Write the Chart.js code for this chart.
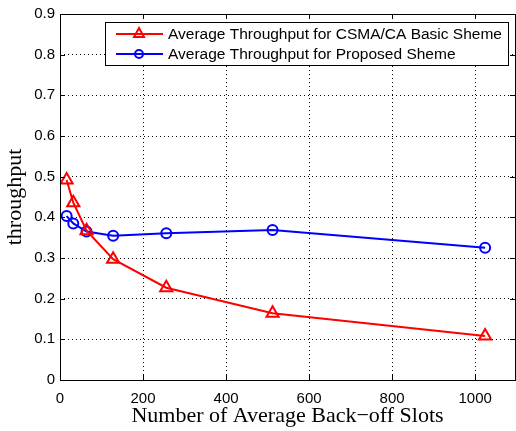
<!DOCTYPE html>
<html>
<head>
<meta charset="utf-8">
<script src="https://cdn.jsdelivr.net/npm/chart.js@4.4.1/dist/chart.umd.min.js"></script>
<style>
  html, body { margin: 0; padding: 0; background: #fff; overflow: hidden; }
  #wrap { width: 516px; height: 431px; position: relative; }
</style>
</head>
<body>
<div id="wrap"><canvas id="grafico"></canvas></div>
<script>
// dados
const slots = [16, 32, 64, 128, 256, 512, 1024];
const basicoCsma = [0.492, 0.436, 0.367, 0.297, 0.227, 0.164, 0.108];
const proposto = [0.403, 0.385, 0.365, 0.355, 0.361, 0.369, 0.325];
const xTicks = [0, 200, 400, 600, 800, 1000];
const yTicks = [0, 0.1, 0.2, 0.3, 0.4, 0.5, 0.6, 0.7, 0.8, 0.9];
const nomesSeries = ['Average Throughput for CSMA/CA Basic Sheme', 'Average Throughput for Proposed Sheme'];

const pontos = (ys) => slots.map((x, i) => ({ x: x, y: ys[i] }));
const fonteSans = '"Liberation Sans", Arial, sans-serif';
const fonteSerif = '"Liberation Serif", "Times New Roman", serif';

// moldura, ticks internos e legenda no estilo MATLAB
const molduraPlugin = {
    id: 'moldura',
    afterDraw(chart) {
        const { ctx, chartArea: a, scales } = chart;
        ctx.save();
        ctx.strokeStyle = '#000';
        ctx.lineWidth = 1;
        ctx.setLineDash([]);
        ctx.strokeRect(Math.round(a.left) + 0.5, Math.round(a.top) + 0.5,
            Math.round(a.right - a.left), Math.round(a.bottom - a.top));
        const len = 5;
        ctx.beginPath();
        xTicks.forEach(v => {
            const px = Math.round(scales.x.getPixelForValue(v)) + 0.5;
            ctx.moveTo(px, a.bottom); ctx.lineTo(px, a.bottom - len);
            ctx.moveTo(px, a.top); ctx.lineTo(px, a.top + len);
        });
        yTicks.forEach(v => {
            const py = Math.round(scales.y.getPixelForValue(v)) + 0.5;
            ctx.moveTo(a.left, py); ctx.lineTo(a.left + len, py);
            ctx.moveTo(a.right, py); ctx.lineTo(a.right - len, py);
        });
        ctx.stroke();

        // legenda
        const lx = 105, ly = 22, lw = 403, lh = 43;
        ctx.fillStyle = '#fff';
        ctx.fillRect(lx, ly, lw, lh);
        ctx.strokeRect(lx + 0.5, ly + 0.5, lw, lh);
        const cores = ['#ff0000', '#0000ff'];
        ctx.font = '15.5px ' + fonteSans;
        ctx.textBaseline = 'middle';
        nomesSeries.forEach((nome, i) => {
            const y = ly + 12 + i * 20;
            ctx.strokeStyle = cores[i];
            ctx.lineWidth = 2;
            ctx.beginPath();
            ctx.moveTo(lx + 11, y); ctx.lineTo(lx + 58, y);
            ctx.stroke();
            const cx = lx + 34;
            ctx.beginPath();
            if (i === 0) {
                ctx.moveTo(cx, y - 6); ctx.lineTo(cx + 5, y + 3); ctx.lineTo(cx - 5, y + 3); ctx.closePath();
            } else {
                ctx.arc(cx, y, 4, 0, Math.PI * 2);
            }
            ctx.stroke();
            ctx.fillStyle = '#000';
            ctx.fillText(nome, lx + 63, y + 1);
        });
        ctx.restore();
    }
};

new Chart(document.getElementById('grafico').getContext('2d'), {
    type: 'line',
    data: {
        datasets: [{
            label: nomesSeries[0],
            data: pontos(basicoCsma),
            borderColor: '#ff0000',
            backgroundColor: 'transparent',
            borderWidth: 2,
            pointStyle: 'triangle',
            pointRadius: 7,
            pointBorderWidth: 2,
            pointBackgroundColor: 'transparent',
            tension: 0
        }, {
            label: nomesSeries[1],
            data: pontos(proposto),
            borderColor: '#0000ff',
            backgroundColor: 'transparent',
            borderWidth: 2,
            pointStyle: 'circle',
            pointRadius: 5,
            pointBorderWidth: 2,
            pointBackgroundColor: 'transparent',
            tension: 0
        }]
    },
    options: {
        responsive: true,
        maintainAspectRatio: false,
        animation: false,
        layout: { autoPadding: false, padding: { top: 14, right: 1, left: 0, bottom: 0 } },
        plugins: {
            legend: { display: false },
            tooltip: { enabled: false }
        },
        scales: {
            x: {
                type: 'linear',
                min: 0,
                max: 1096,
                afterBuildTicks: (s) => { s.ticks = xTicks.map(v => ({ value: v })); },
                afterFit: (s) => { s.height = 51; s.paddingLeft = 0; s.paddingRight = 0; },
                ticks: {
                    color: '#000',
                    padding: 10,
                    font: { family: fonteSans, size: 15 },
                    maxRotation: 0,
                    callback: (v) => String(v)
                },
                grid: {
                    color: '#000',
                    lineWidth: 1,
                    drawTicks: false
                },
                border: { display: false, dash: [1, 3] },
                title: {
                    display: true,
                    text: 'Number of Average Back\u2212off Slots',
                    color: '#000',
                    padding: { top: 0, bottom: 2 },
                    font: { family: fonteSerif, size: 22 }
                }
            },
            y: {
                min: 0,
                max: 0.9,
                afterBuildTicks: (s) => { s.ticks = yTicks.map(v => ({ value: v })); },
                afterFit: (s) => { s.width = 60; s.paddingTop = 0; s.paddingBottom = 0; },
                ticks: {
                    color: '#000',
                    padding: 5,
                    font: { family: fonteSans, size: 15 },
                    callback: (v) => v === 0 ? '0' : v.toFixed(1)
                },
                grid: {
                    color: '#000',
                    lineWidth: 1,
                    drawTicks: false
                },
                border: { display: false, dash: [1, 3] },
                title: {
                    display: true,
                    text: 'throughput',
                    color: '#000',
                    padding: { top: 2, bottom: 0 },
                    font: { family: fonteSerif, size: 22 }
                }
            }
        }
    },
    plugins: [molduraPlugin]
});
</script>
</body>
</html>
